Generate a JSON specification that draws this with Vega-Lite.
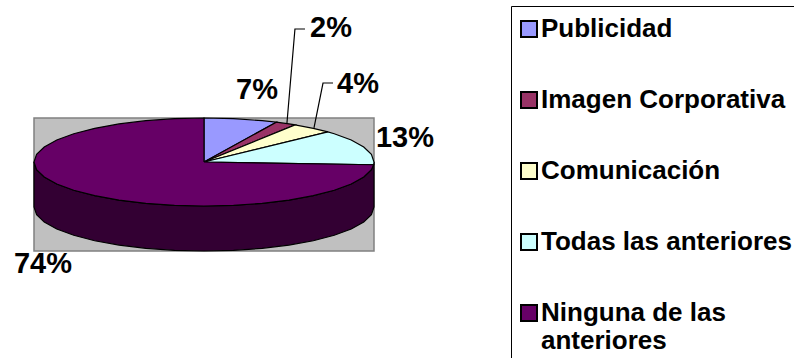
{
  "$schema": "https://vega.github.io/schema/vega-lite/v6.json",
  "width": 794,
  "height": 358,
  "padding": 0,
  "autosize": {"type": "none"},
  "background": "white",
  "config": {"view": {"stroke": null}, "font": "Liberation Sans"},
  "datasets": {
    "wall": [
      {"u": 1, "v": 0}, {"u": 0.9848, "v": -0.1736}, {"u": 0.9397, "v": -0.342}, {"u": 0.866, "v": -0.5}, {"u": 0.766, "v": -0.6428}, {"u": 0.6428, "v": -0.766}, {"u": 0.5, "v": -0.866}, {"u": 0.342, "v": -0.9397}, {"u": 0.1736, "v": -0.9848}, {"u": 0, "v": -1}, {"u": -0.1736, "v": -0.9848}, {"u": -0.342, "v": -0.9397}, {"u": -0.5, "v": -0.866}, {"u": -0.6428, "v": -0.766}, {"u": -0.766, "v": -0.6428}, {"u": -0.866, "v": -0.5}, {"u": -0.9397, "v": -0.342}, {"u": -0.9848, "v": -0.1736}, {"u": -1, "v": 0},
      {"u": -1, "v": -1.023}, {"u": -0.9848, "v": -1.1966}, {"u": -0.9397, "v": -1.365}, {"u": -0.866, "v": -1.523}, {"u": -0.766, "v": -1.6658}, {"u": -0.6428, "v": -1.789}, {"u": -0.5, "v": -1.889}, {"u": -0.342, "v": -1.9627}, {"u": -0.1736, "v": -2.0078}, {"u": 0, "v": -2.023}, {"u": 0.1736, "v": -2.0078}, {"u": 0.342, "v": -1.9627}, {"u": 0.5, "v": -1.889}, {"u": 0.6428, "v": -1.789}, {"u": 0.766, "v": -1.6658}, {"u": 0.866, "v": -1.523}, {"u": 0.9397, "v": -1.365}, {"u": 0.9848, "v": -1.1966}, {"u": 1, "v": -1.023}, {"u": 1, "v": 0}
    ],
    "slices": [
      {"slice": "Publicidad", "u": 0, "v": 0}, {"slice": "Publicidad", "u": 0, "v": 1}, {"slice": "Publicidad", "u": 0.1736, "v": 0.9848}, {"slice": "Publicidad", "u": 0.342, "v": 0.9397}, {"slice": "Publicidad", "u": 0.4258, "v": 0.9048}, {"slice": "Publicidad", "u": 0, "v": 0},
      {"slice": "Imagen Corporativa", "u": 0, "v": 0}, {"slice": "Imagen Corporativa", "u": 0.4258, "v": 0.9048}, {"slice": "Imagen Corporativa", "u": 0.5, "v": 0.866}, {"slice": "Imagen Corporativa", "u": 0.5358, "v": 0.8443}, {"slice": "Imagen Corporativa", "u": 0, "v": 0},
      {"slice": "Comunicación", "u": 0, "v": 0}, {"slice": "Comunicación", "u": 0.5358, "v": 0.8443}, {"slice": "Comunicación", "u": 0.6428, "v": 0.766}, {"slice": "Comunicación", "u": 0.729, "v": 0.6845}, {"slice": "Comunicación", "u": 0, "v": 0},
      {"slice": "Todas las anteriores", "u": 0, "v": 0}, {"slice": "Todas las anteriores", "u": 0.729, "v": 0.6845}, {"slice": "Todas las anteriores", "u": 0.766, "v": 0.6428}, {"slice": "Todas las anteriores", "u": 0.866, "v": 0.5}, {"slice": "Todas las anteriores", "u": 0.9397, "v": 0.342}, {"slice": "Todas las anteriores", "u": 0.9848, "v": 0.1736}, {"slice": "Todas las anteriores", "u": 1, "v": 0}, {"slice": "Todas las anteriores", "u": 0.998, "v": -0.0628}, {"slice": "Todas las anteriores", "u": 0, "v": 0},
      {"slice": "Ninguna de las anteriores", "u": 0, "v": 0}, {"slice": "Ninguna de las anteriores", "u": 0.998, "v": -0.0628}, {"slice": "Ninguna de las anteriores", "u": 0.9848, "v": -0.1736}, {"slice": "Ninguna de las anteriores", "u": 0.9397, "v": -0.342}, {"slice": "Ninguna de las anteriores", "u": 0.866, "v": -0.5}, {"slice": "Ninguna de las anteriores", "u": 0.766, "v": -0.6428}, {"slice": "Ninguna de las anteriores", "u": 0.6428, "v": -0.766}, {"slice": "Ninguna de las anteriores", "u": 0.5, "v": -0.866}, {"slice": "Ninguna de las anteriores", "u": 0.342, "v": -0.9397}, {"slice": "Ninguna de las anteriores", "u": 0.1736, "v": -0.9848}, {"slice": "Ninguna de las anteriores", "u": 0, "v": -1}, {"slice": "Ninguna de las anteriores", "u": -0.1736, "v": -0.9848}, {"slice": "Ninguna de las anteriores", "u": -0.342, "v": -0.9397}, {"slice": "Ninguna de las anteriores", "u": -0.5, "v": -0.866}, {"slice": "Ninguna de las anteriores", "u": -0.6428, "v": -0.766}, {"slice": "Ninguna de las anteriores", "u": -0.766, "v": -0.6428}, {"slice": "Ninguna de las anteriores", "u": -0.866, "v": -0.5}, {"slice": "Ninguna de las anteriores", "u": -0.9397, "v": -0.342}, {"slice": "Ninguna de las anteriores", "u": -0.9848, "v": -0.1736}, {"slice": "Ninguna de las anteriores", "u": -1, "v": 0}, {"slice": "Ninguna de las anteriores", "u": -0.9848, "v": 0.1736}, {"slice": "Ninguna de las anteriores", "u": -0.9397, "v": 0.342}, {"slice": "Ninguna de las anteriores", "u": -0.866, "v": 0.5}, {"slice": "Ninguna de las anteriores", "u": -0.766, "v": 0.6428}, {"slice": "Ninguna de las anteriores", "u": -0.6428, "v": 0.766}, {"slice": "Ninguna de las anteriores", "u": -0.5, "v": 0.866}, {"slice": "Ninguna de las anteriores", "u": -0.342, "v": 0.9397}, {"slice": "Ninguna de las anteriores", "u": -0.1736, "v": 0.9848}, {"slice": "Ninguna de las anteriores", "u": 0, "v": 1}, {"slice": "Ninguna de las anteriores", "u": 0, "v": 0}
    ],
    "leaders": [
      {"leader": "2%", "u": 0.488, "v": 0.886}, {"leader": "2%", "u": 0.535, "v": 3.023}, {"leader": "2%", "u": 0.594, "v": 3.023},
      {"leader": "4%", "u": 0.647, "v": 0.773}, {"leader": "4%", "u": 0.7, "v": 1.795}, {"leader": "4%", "u": 0.759, "v": 1.795}
    ],
    "shares": [
      {"slice": "Publicidad", "share": 0.07, "u": 0.312, "v": 1.636},
      {"slice": "Imagen Corporativa", "share": 0.02, "u": 0.747, "v": 3.045},
      {"slice": "Comunicación", "share": 0.04, "u": 0.906, "v": 1.773},
      {"slice": "Todas las anteriores", "share": 0.13, "u": 1.182, "v": 0.545},
      {"slice": "Ninguna de las anteriores", "share": 0.74, "u": -0.947, "v": -2.318}
    ]
  },
  "encoding": {
    "x": {"field": "u", "type": "quantitative", "scale": {"domain": [-1.2, 3.4706], "range": [0, 794], "nice": false, "zero": false}, "axis": null},
    "y": {"field": "v", "type": "quantitative", "scale": {"domain": [-4.4545, 3.6818], "range": [358, 0], "nice": false, "zero": false}, "axis": null}
  },
  "layer": [
    {
      "data": {"values": [{"u": -1, "u2": 1, "v": 1, "v2": -2.023}]},
      "mark": {"type": "rect", "fill": "#C0C0C0", "stroke": "#808080", "strokeWidth": 1.5},
      "encoding": {
        "x2": {"field": "u2"},
        "y2": {"field": "v2"}
      }
    },
    {
      "data": {"name": "wall"},
      "mark": {"type": "line", "fill": "#330033", "stroke": "black", "strokeWidth": 1.2},
      "encoding": {
        "order": {"value": null}
      }
    },
    {
      "data": {"name": "slices"},
      "mark": {"type": "line", "stroke": "black", "strokeWidth": 1.2},
      "encoding": {
        "detail": {"field": "slice"},
        "order": {"value": null},
        "fill": {
          "field": "slice",
          "type": "nominal",
          "scale": {
            "domain": ["Publicidad", "Imagen Corporativa", "Comunicación", "Todas las anteriores", "Ninguna de las anteriores"],
            "range": ["#9999FF", "#993366", "#FFFFCC", "#CCFFFF", "#660066"]
          },
          "legend": {
            "orient": "none",
            "legendX": 511,
            "legendY": 6,
            "title": null,
            "padding": 10,
            "strokeColor": "black",
            "symbolType": "square",
            "symbolSize": 256,
            "symbolStrokeColor": "black",
            "symbolStrokeWidth": 2,
            "symbolOffset": -5,
            "labelFont": "Liberation Sans",
            "labelFontWeight": "bold",
            "labelFontSize": 26,
            "labelColor": "black",
            "labelOffset": -1,
            "labelLimit": 400,
            "rowPadding": 45,
            "labelExpr": "datum.label == 'Ninguna de las anteriores' ? ['Ninguna de las', 'anteriores'] : datum.label"
          }
        }
      }
    },
    {
      "data": {"name": "leaders"},
      "mark": {"type": "line", "stroke": "black", "strokeWidth": 1.2},
      "encoding": {
        "detail": {"field": "leader"},
        "order": {"value": null}
      }
    },
    {
      "data": {"name": "shares"},
      "mark": {"type": "text", "font": "Liberation Sans", "fontWeight": "bold", "fontSize": 29, "align": "center", "baseline": "middle", "color": "black"},
      "encoding": {
        "text": {"field": "share", "type": "quantitative", "format": ".0%"}
      }
    }
  ]
}
